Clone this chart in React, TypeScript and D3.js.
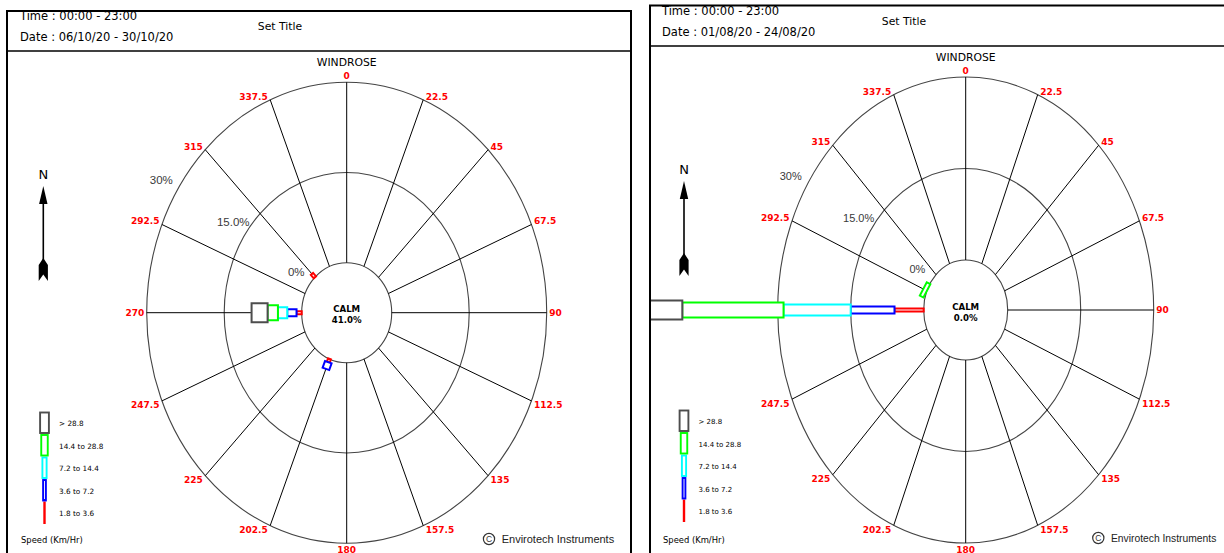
import React from "react";
import * as d3 from "d3";

// Direction categories (degrees) and their labels
const DIRECTIONS = [0, 22.5, 45, 67.5, 90, 112.5, 135, 157.5, 180, 202.5, 225, 247.5, 270, 292.5, 315, 337.5];
const DIR_LABELS = ["0", "22.5", "45", "67.5", "90", "112.5", "135", "157.5", "180", "202.5", "225", "247.5", "270", "292.5", "315", "337.5"];

// Speed classes, inner to outer
const SPEED_KEYS = ["s1", "s2", "s3", "s4", "s5"];
const SPEED_LABELS = ["1.8 to 3.6", "3.6 to 7.2", "7.2 to 14.4", "14.4 to 28.8", "> 28.8"];
const SPEED_COLORS = ["#ff0000", "#0000ff", "#00ffff", "#00ff00", "#4d4d4d"];
const BAR_WIDTHS = [3, 7, 11, 15, 19];
const LEGEND_WIDTHS = [2.4, 2.8, 4.2, 6.5, 8.8];

// Frequency (%) per direction per speed class  (October, 06/10 - 30/10)
const OCT_FREQ = [
  [0, 0, 0, 0, 0], [0, 0, 0, 0, 0], [0, 0, 0, 0, 0], [0, 0, 0, 0, 0],
  [0, 0, 0, 0, 0], [0, 0, 0, 0, 0], [0, 0, 0, 0, 0], [0, 0, 0, 0, 0],
  [0, 0, 0, 0, 0], [0.6, 1.2, 0, 0, 0], [0, 0, 0, 0, 0], [0, 0, 0, 0, 0],
  [1.0, 1.8, 1.8, 2.0, 3.1], [0, 0, 0, 0, 0], [0.8, 0, 0, 0, 0], [0, 0, 0, 0, 0],
];
const OCT_CALM = 41.0;

// August, 01/08 - 24/08
const AUG_FREQ = [
  [0, 0, 0, 0, 0], [0, 0, 0, 0, 0], [0, 0, 0, 0, 0], [0, 0, 0, 0, 0],
  [0, 0, 0, 0, 0], [0, 0, 0, 0, 0], [0, 0, 0, 0, 0], [0, 0, 0, 0, 0],
  [0, 0, 0, 0, 0], [0, 0, 0, 0, 0], [0, 0, 0, 0, 0], [0, 0, 0, 0, 0],
  [6.0, 9.0, 13.8, 20.8, 10.0], [0, 0, 0, 0.8, 0], [0, 0, 0, 0, 0], [0, 0, 0, 0, 0],
];
const AUG_CALM = 0.0;

const RING_TICKS = [0, 15, 30];
const RING_LABELS = ["0%", "15.0%", "30%"];
const RING_LABEL_ANGLE = [35.5, 49.5, 55];
const RING_LABEL_GAP = [16, 4, 10];

const FONT = "'DejaVu Sans', Verdana, sans-serif";
const ARIAL = "'Liberation Sans', Arial, sans-serif";

interface PanelCfg {
  id: string;
  x0: number;
  y0: number;
  x1: number;
  headerY: number;
  dy: number; // vertical shift of header & arrow
  textX: number;
  titleX: number;
  cx: number;
  cy: number;
  rx: [number, number];
  ry: [number, number];
  arrowX: number;
  legendX: number;
  legendY: number;
  legendFont: number;
  copyX: number;
  copyY: number;
  copyFont: number;
  ringFont: number;
  date: string;
  freq: number[][];
  calm: number;
}

const PANELS: PanelCfg[] = [
  {
    id: "oct", x0: 7, y0: 11, x1: 631, headerY: 51, dy: 0, textX: 20, titleX: 280,
    cx: 346.7, cy: 312.7, rx: [45, 200], ry: [50, 230.5],
    arrowX: 43.3, legendX: 44.5, legendY: 411.5, legendFont: 7.3,
    copyX: 489, copyY: 539, copyFont: 11, ringFont: 11.5,
    date: "Date : 06/10/20 - 30/10/20", freq: OCT_FREQ, calm: OCT_CALM,
  },
  {
    id: "aug", x0: 650, y0: 5.5, x1: 1240, headerY: 46, dy: -5, textX: 662, titleX: 904,
    cx: 965.7, cy: 310, rx: [42, 188], ry: [50, 233],
    arrowX: 684, legendX: 684, legendY: 409.5, legendFont: 7,
    copyX: 1098.3, copyY: 538, copyFont: 10.3, ringFont: 11,
    date: "Date : 01/08/20 - 24/08/20", freq: AUG_FREQ, calm: AUG_CALM,
  },
];

const Panel: React.FC<{ cfg: PanelCfg }> = ({ cfg }) => {
  const sx = d3.scaleLinear().domain([0, 30]).range(cfg.rx);
  const sy = d3.scaleLinear().domain([0, 30]).range(cfg.ry);
  const pt = (deg: number, r: number): [number, number] => {
    const a = (deg * Math.PI) / 180;
    return [cfg.cx + Math.sin(a) * sx(r), cfg.cy - Math.cos(a) * sy(r)];
  };

  const rows = DIRECTIONS.map((d, i) => {
    const row: Record<string, number> = { dir: d };
    SPEED_KEYS.forEach((k, j) => (row[k] = cfg.freq[i][j]));
    return row;
  });
  const stacked = d3.stack<Record<string, number>>().keys(SPEED_KEYS)(rows);
  const line = d3.line();

  const bars: { d: string; color: string; key: string }[] = [];
  stacked.forEach((series, k) => {
    series.forEach((s, i) => {
      const [r0, r1] = s;
      if (r1 - r0 <= 0) return;
      const dir = DIRECTIONS[i];
      const p0 = pt(dir, r0);
      const p1 = pt(dir, r1);
      let ux = p1[0] - p0[0];
      let uy = p1[1] - p0[1];
      const len = Math.hypot(ux, uy) || 1;
      ux /= len;
      uy /= len;
      const hw = BAR_WIDTHS[k] / 2;
      const nx = -uy * hw;
      const ny = ux * hw;
      const corners: [number, number][] = [
        [p0[0] + nx, p0[1] + ny],
        [p1[0] + nx, p1[1] + ny],
        [p1[0] - nx, p1[1] - ny],
        [p0[0] - nx, p0[1] - ny],
      ];
      bars.push({ d: line(corners) + "Z", color: SPEED_COLORS[k], key: `${k}-${i}` });
    });
  });

  const clipId = `clip-${cfg.id}`;
  const dy = cfg.dy;
  const ax = cfg.arrowX;

  return (
    <g>
      <defs>
        <clipPath id={clipId}>
          <rect x={cfg.x0} y={cfg.y0} width={cfg.x1 - cfg.x0} height={600} />
        </clipPath>
      </defs>
      <g clipPath={`url(#${clipId})`}>
        {/* header */}
        <text x={cfg.textX} y={19.5 + dy} fontFamily={FONT} fontSize={11.5} fill="#000">
          Time : 00:00 - 23:00
        </text>
        <text x={cfg.textX} y={40.7 + dy} fontFamily={FONT} fontSize={11.5} fill="#000">
          {cfg.date}
        </text>
        <text x={cfg.titleX} y={30 + dy} textAnchor="middle" fontFamily={FONT} fontSize={10.8} fill="#000">
          Set Title
        </text>
        <line x1={cfg.x0} x2={cfg.x1} y1={cfg.headerY} y2={cfg.headerY} stroke="#000" strokeWidth={1.4} />
        <text x={cfg.cx} y={66 + dy} textAnchor="middle" fontFamily={FONT} fontSize={10.8} fill="#000">
          WINDROSE
        </text>

        {/* rings */}
        {RING_TICKS.map((t) => (
          <ellipse key={t} cx={cfg.cx} cy={cfg.cy} rx={sx(t)} ry={sy(t)} fill="none" stroke="#444" strokeWidth={1.1} />
        ))}
        {/* spokes */}
        {DIRECTIONS.map((d) => {
          const a = pt(d, 0);
          const b = pt(d, 30);
          return <line key={d} x1={a[0]} y1={a[1]} x2={b[0]} y2={b[1]} stroke="#000" strokeWidth={1} />;
        })}
        {/* direction labels */}
        {DIRECTIONS.map((d, i) => {
          const [x, y] = pt(d, 30);
          const s = Math.sin((d * Math.PI) / 180);
          const c = Math.cos((d * Math.PI) / 180);
          let anchor = "middle";
          let tx = x;
          if (s > 0.01) { anchor = "start"; tx = x + 2.5; }
          else if (s < -0.01) { anchor = "end"; tx = x - 2.5; }
          let ty = y;
          if (c > 0.99) ty = y - 3.5;
          else if (c < -0.99) ty = y + 10;
          else if (Math.abs(c) < 0.01) ty = y + 3.3;
          else if (c < 0) ty = y + 7.5;
          return (
            <text key={d} x={tx} y={ty} textAnchor={anchor} fontFamily={FONT} fontWeight="bold" fontSize={9} fill="#ff0000">
              {DIR_LABELS[i]}
            </text>
          );
        })}
        {/* ring labels */}
        {RING_TICKS.map((t, i) => {
          const a = (RING_LABEL_ANGLE[i] * Math.PI) / 180;
          const x = cfg.cx - Math.sin(a) * sx(t) - RING_LABEL_GAP[i];
          const y = cfg.cy - Math.cos(a) * sy(t) + 4;
          return (
            <text key={t} x={x} y={y} textAnchor="end" fontFamily={ARIAL} fontSize={cfg.ringFont} fill="#3a3a3a">
              {RING_LABELS[i]}
            </text>
          );
        })}
        {/* bars */}
        {bars.map((b) => (
          <path key={b.key} d={b.d} fill="#fff" stroke={b.color} strokeWidth={2} strokeLinejoin="miter" />
        ))}
        {/* calm */}
        <text x={cfg.cx} y={cfg.cy - 0.5} textAnchor="middle" fontFamily={FONT} fontWeight="bold" fontSize={8.6} fill="#000">
          CALM
        </text>
        <text x={cfg.cx} y={cfg.cy + 10.5} textAnchor="middle" fontFamily={FONT} fontWeight="bold" fontSize={8.6} fill="#000">
          {cfg.calm.toFixed(1)}%
        </text>

        {/* north arrow */}
        <text x={ax} y={178.7 + dy} textAnchor="middle" fontFamily={FONT} fontSize={13} fill="#000">
          N
        </text>
        <path d={`M${ax},${186 + dy}L${ax + 4.2},${204 + dy}L${ax - 4.2},${204 + dy}Z`} fill="#000" />
        <line x1={ax} x2={ax} y1={203 + dy} y2={260 + dy} stroke="#000" strokeWidth={1.6} />
        <path
          d={`M${ax},${258 + dy}L${ax + 4.6},${265 + dy}L${ax + 4.6},${281 + dy}L${ax},${274.5 + dy}L${ax - 4.6},${281 + dy}L${ax - 4.6},${265 + dy}Z`}
          fill="#000"
        />

        {/* legend, outer class on top */}
        {SPEED_LABELS.map((lab, k) => {
          const row = SPEED_LABELS.length - 1 - k;
          const yTop = cfg.legendY + row * 22.5;
          const w = LEGEND_WIDTHS[k];
          return (
            <g key={lab}>
              {k === 0 ? (
                <rect x={cfg.legendX - w / 2} y={yTop} width={w} height={22.5} fill={SPEED_COLORS[k]} />
              ) : (
                <rect x={cfg.legendX - w / 2} y={yTop + 1} width={w} height={20.5} fill="#fff" stroke={SPEED_COLORS[k]} strokeWidth={1.9} />
              )}
              <text x={cfg.legendX + 14.5} y={yTop + 14.5} fontFamily={FONT} fontSize={cfg.legendFont} fill="#000">
                {lab}
              </text>
            </g>
          );
        })}
        <text x={cfg.textX + 1} y={543} fontFamily={FONT} fontSize={8.4} fill="#000">
          Speed (Km/Hr)
        </text>

        {/* copyright */}
        <circle cx={cfg.copyX} cy={cfg.copyY} r={5.6} fill="none" stroke="#333" strokeWidth={1.2} />
        <text x={cfg.copyX} y={cfg.copyY + 3} textAnchor="middle" fontFamily={ARIAL} fontSize={8.5} fill="#333">
          C
        </text>
        <text x={cfg.copyX + 12.7} y={cfg.copyY + 4} fontFamily={ARIAL} fontSize={cfg.copyFont} fill="#222">
          Envirotech Instruments
        </text>
      </g>
      {/* panel border */}
      <path
        d={`M${cfg.x0},600V${cfg.y0}H${cfg.x1}V600`}
        fill="none"
        stroke="#000"
        strokeWidth={2}
      />
    </g>
  );
};

export default function App() {
  return (
    <svg
      width={1224}
      height={553}
      style={{ position: "absolute", left: 0, top: 0, background: "#fff" }}
    >
      <rect width={1224} height={553} fill="#fff" />
      {PANELS.map((p) => (
        <Panel key={p.id} cfg={p} />
      ))}
    </svg>
  );
}
